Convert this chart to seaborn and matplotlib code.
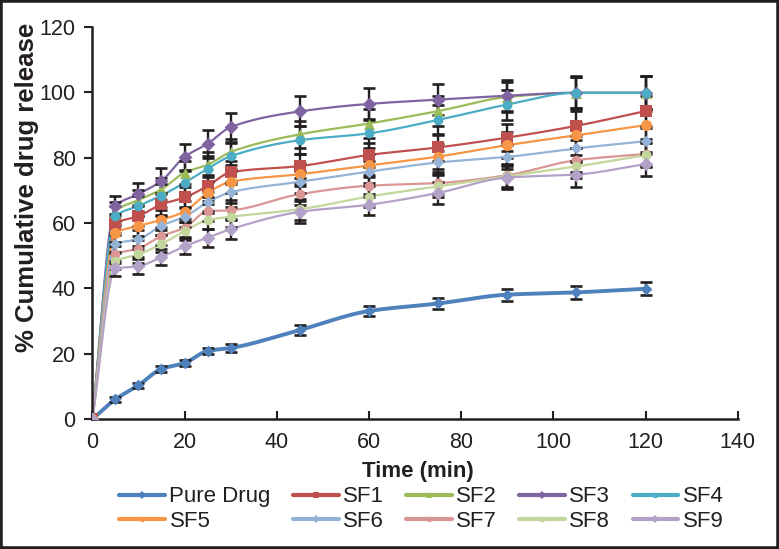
import numpy as np
import pandas as pd
import matplotlib
matplotlib.use("Agg")
import matplotlib.pyplot as plt
import seaborn as sns
from matplotlib.lines import Line2D
from matplotlib.patches import Rectangle

# ---------------- data ----------------
time_min = [0, 5, 10, 15, 20, 25, 30, 45, 60, 75, 90, 105, 120]

series_names = ["Pure Drug", "SF1", "SF2", "SF3", "SF4", "SF5", "SF6", "SF7", "SF8", "SF9"]

pure_drug = [0, 6.1, 10.4, 15.4, 17.2, 20.9, 21.8, 27.3, 33.1, 35.4, 38.1, 38.8, 39.9]
sf1 = [0, 59.8, 62.1, 65.7, 67.8, 71.3, 75.5, 77.4, 80.8, 83.1, 86.1, 89.7, 94.2]
sf2 = [0, 63.5, 67.0, 70.3, 75.4, 77.8, 81.7, 87.1, 90.4, 94.2, 98.5, 99.8, 99.8]
sf3 = [0, 65.2, 68.8, 72.9, 80.2, 84.2, 89.3, 94.1, 96.4, 97.7, 98.9, 99.8, 99.8]
sf4 = [0, 62.1, 65.2, 68.4, 72.3, 76.6, 80.4, 85.3, 87.4, 91.5, 96.2, 99.8, 99.8]
sf5 = [0, 57.0, 59.1, 61.0, 63.5, 69.2, 72.6, 74.9, 77.6, 80.3, 83.8, 86.8, 89.9]
sf6 = [0, 53.7, 55.0, 59.2, 61.9, 66.3, 69.4, 72.6, 75.7, 78.5, 80.2, 82.8, 85.0]
sf7 = [0, 50.4, 52.2, 56.0, 58.5, 63.6, 63.9, 68.8, 71.4, 72.2, 74.6, 79.2, 81.1]
sf8 = [0, 48.3, 50.4, 53.6, 57.5, 60.9, 61.9, 64.2, 68.1, 71.2, 74.3, 77.3, 80.7]
sf9 = [0, 46.1, 46.8, 49.6, 52.9, 55.5, 58.1, 63.4, 65.6, 69.2, 73.9, 74.8, 78.0]

pure_drug_err = [0, 0.8, 0.8, 0.9, 1.0, 1.0, 1.2, 1.4, 1.6, 1.6, 1.8, 1.9, 2.0]
sf1_err = [0, 3.0, 3.0, 3.2, 3.3, 3.5, 3.5, 3.6, 3.8, 4.0, 4.2, 4.4, 4.5]
sf2_err = [0, 3.0, 3.2, 3.4, 3.6, 3.8, 4.0, 4.2, 4.4, 4.5, 4.6, 4.8, 5.0]
sf3_err = [0, 3.0, 3.4, 3.8, 3.9, 4.2, 4.4, 4.6, 4.8, 4.7, 4.7, 5.0, 5.1]
sf4_err = [0, 3.0, 3.2, 3.4, 3.6, 3.8, 4.0, 4.2, 4.4, 4.5, 4.6, 4.8, 5.0]
sf5_err = [0, 2.8, 3.0, 3.0, 3.2, 3.3, 3.4, 3.5, 3.6, 3.8, 4.0, 4.0, 4.2]
sf6_err = [0, 2.6, 2.8, 2.8, 3.0, 3.1, 3.2, 3.3, 3.4, 3.5, 3.6, 3.8, 4.0]
sf7_err = [0, 2.5, 2.6, 2.7, 2.8, 3.0, 3.0, 3.2, 3.3, 3.4, 3.5, 3.6, 3.8]
sf8_err = [0, 2.4, 2.5, 2.6, 2.7, 2.8, 3.0, 3.2, 3.3, 3.4, 3.5, 3.6, 3.7]
sf9_err = [0, 2.3, 2.3, 2.4, 2.5, 2.7, 3.0, 3.4, 3.2, 3.3, 3.4, 3.8, 3.7]

values = [pure_drug, sf1, sf2, sf3, sf4, sf5, sf6, sf7, sf8, sf9]
errors = [pure_drug_err, sf1_err, sf2_err, sf3_err, sf4_err, sf5_err, sf6_err,
          sf7_err, sf8_err, sf9_err]

# ---------------- styles ----------------
colors = ["#4F81BD", "#C0504D", "#9BBB59", "#8064A2", "#4BACC6",
          "#F79646", "#95B3D7", "#D99694", "#C3D69B", "#B3A2C7"]
markers = ["D", "s", "^", "D", "o", "o", "D", "o", "o", "D"]
msizes = [6, 9, 8, 7, 7, 8, 6, 7, 7, 7]
lwidths = [2.8, 1.6, 1.6, 1.6, 1.6, 1.6, 1.6, 1.6, 1.6, 1.6]

df = pd.DataFrame({
    "time": np.tile(time_min, len(series_names)),
    "value": np.concatenate(values),
    "err": np.concatenate(errors),
    "series": np.repeat(series_names, len(time_min)),
})

sns.set_theme(style="white")
plt.rcParams["font.family"] = ["Liberation Sans", "DejaVu Sans"]
dark = "#231F20"


def smooth(x, y, n=30):
    """Smoothed (shape-preserving cubic) path through the data points."""
    x = np.asarray(x, float)
    y = np.asarray(y, float)
    h = np.diff(x)
    d = np.diff(y) / h
    m = np.zeros_like(y)
    for k in range(1, len(x) - 1):
        if d[k - 1] * d[k] > 0:
            w1 = 2 * h[k] + h[k - 1]
            w2 = h[k] + 2 * h[k - 1]
            m[k] = (w1 + w2) / (w1 / d[k - 1] + w2 / d[k])
    m[0] = d[0]
    m[-1] = d[-1]
    xs, ys = [], []
    for k in range(len(x) - 1):
        t = np.linspace(0, 1, n)
        if k > 0:
            t = t[1:]
        h00 = 2 * t ** 3 - 3 * t ** 2 + 1
        h10 = t ** 3 - 2 * t ** 2 + t
        h01 = -2 * t ** 3 + 3 * t ** 2
        h11 = t ** 3 - t ** 2
        xs.append(x[k] + t * h[k])
        ys.append(h00 * y[k] + h10 * h[k] * m[k] + h01 * y[k + 1] + h11 * h[k] * m[k + 1])
    return np.concatenate(xs), np.concatenate(ys)


fig = plt.figure(figsize=(7.79, 5.49), dpi=100)
ax = fig.add_axes([0.1185, 0.2362, 0.947 - 0.1185, 0.9514 - 0.2362])

handles = []
for i, name in enumerate(series_names):
    sub = df[df["series"] == name]
    sx, sy = smooth(sub["time"], sub["value"])
    ax.plot(sx, sy, color=colors[i], lw=lwidths[i], zorder=2 + i * 0.01,
            solid_capstyle="round")
    ax.errorbar(sub["time"], sub["value"], yerr=sub["err"], fmt="none",
                ecolor=dark, elinewidth=1.7, capsize=4, capthick=1.9, zorder=3)
    handles.append(Line2D([], [], color=colors[i], lw=3.0, marker=markers[i],
                          markersize=4, markeredgewidth=0))

for i, name in enumerate(series_names):
    sub = df[df["series"] == name]
    sns.scatterplot(x=sub["time"], y=sub["value"], ax=ax, color=colors[i],
                    marker=markers[i], s=msizes[i] ** 2, linewidth=0,
                    zorder=4 + i * 0.01, legend=False)

ax.set_xlim(0, 140)
ax.set_ylim(0, 120)
ax.set_xticks(np.arange(0, 141, 20))
ax.set_yticks(np.arange(0, 121, 20))
for s in ["top", "right"]:
    ax.spines[s].set_visible(False)
for s in ["left", "bottom"]:
    ax.spines[s].set_color(dark)
    ax.spines[s].set_linewidth(1.8)
ax.tick_params(axis="x", direction="in", length=6, width=1.5, colors=dark,
               labelsize=15.5, pad=9, bottom=True)
ax.tick_params(axis="y", direction="out", length=6, width=1.5, colors=dark,
               labelsize=15.5, pad=6, left=True)
ax.set_xlabel("")
ax.set_ylabel("")

fig.text(418 / 779, 1 - 471 / 549, "Time (min)", ha="center", va="center",
         fontsize=16, fontweight="bold", color=dark)
fig.text(27 / 779, 1 - 187 / 549, "% Cumulative drug release", ha="center",
         va="center", rotation=90, fontsize=18.5, fontweight="bold", color=dark)

# legend: row-major order in 5 columns x 2 rows
order = [0, 5, 1, 6, 2, 7, 3, 8, 4, 9]
leg = fig.legend([handles[k] for k in order], [series_names[k] for k in order],
                 ncol=5, loc="center", bbox_to_anchor=(0.541, 1 - 509 / 549),
                 frameon=False, fontsize=16, handlelength=2.05, handletextpad=0.2,
                 columnspacing=1.0, labelspacing=0.15, borderpad=0)
for t in leg.get_texts():
    t.set_color(dark)

fig.patches.append(Rectangle((0, 0), 1, 1, transform=fig.transFigure, fill=False,
                             edgecolor=dark, linewidth=4, zorder=10))

fig.savefig("out.png", dpi=100)
